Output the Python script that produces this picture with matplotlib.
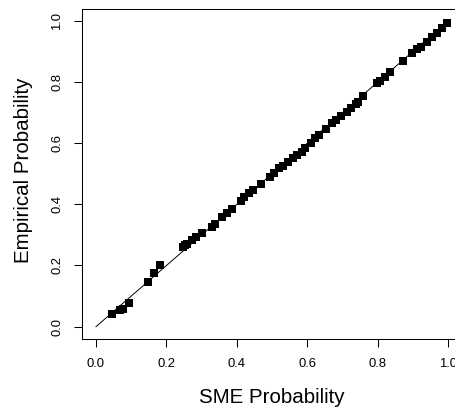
import matplotlib
matplotlib.use("Agg")
import matplotlib.pyplot as plt

sme_prob = [0.046, 0.068, 0.077, 0.095, 0.149, 0.165, 0.183, 0.246, 0.253, 0.257,
            0.272, 0.284, 0.300, 0.328, 0.338, 0.358, 0.371, 0.387, 0.411, 0.420,
            0.435, 0.446, 0.467, 0.494, 0.505, 0.519, 0.532, 0.546, 0.560, 0.571,
            0.584, 0.593, 0.609, 0.622, 0.633, 0.653, 0.669, 0.681, 0.695, 0.712,
            0.724, 0.738, 0.743, 0.759, 0.797, 0.806, 0.820, 0.835, 0.872, 0.896,
            0.912, 0.922, 0.939, 0.953, 0.967, 0.981, 0.995]
emp_prob = [0.042, 0.055, 0.059, 0.076, 0.147, 0.175, 0.201, 0.261, 0.267, 0.270,
            0.283, 0.294, 0.305, 0.327, 0.335, 0.358, 0.371, 0.385, 0.412, 0.423,
            0.436, 0.447, 0.465, 0.490, 0.503, 0.518, 0.526, 0.539, 0.552, 0.561,
            0.572, 0.583, 0.601, 0.616, 0.626, 0.645, 0.665, 0.675, 0.689, 0.703,
            0.714, 0.728, 0.735, 0.754, 0.795, 0.802, 0.817, 0.833, 0.869, 0.893,
            0.907, 0.915, 0.931, 0.946, 0.959, 0.975, 0.992]
ref_line = [0.0, 1.0]
ticks = [0.0, 0.2, 0.4, 0.6, 0.8, 1.0]
tick_labels = ["0.0", "0.2", "0.4", "0.6", "0.8", "1.0"]

plt.rcParams['font.family'] = ['Liberation Sans', 'DejaVu Sans']

fig = plt.figure(figsize=(4.55, 4.07), dpi=100)
ax = fig.add_axes([0.1800, 0.1673, 0.8363, 0.8118])

ax.plot(ref_line, ref_line, color='black', lw=0.7, zorder=2)
ax.plot(sme_prob, emp_prob, linestyle='none', marker='s', markersize=5.3,
        markeredgewidth=0, color='black', zorder=3)

ax.set_xlim(-0.04, 1.04)
ax.set_ylim(-0.04, 1.04)
ax.set_xticks(ticks)
ax.set_xticklabels(tick_labels)
ax.set_yticks(ticks)
ax.set_yticklabels(tick_labels, rotation=90, va='center')

for s in ax.spines.values():
    s.set_linewidth(0.75)
    s.set_color('black')

ax.tick_params(axis='both', direction='out', length=6, width=0.75,
               labelsize=9.4, colors='black')
ax.tick_params(axis='x', pad=7.5)
ax.tick_params(axis='y', pad=7.5)

fig.text(272 / 455, (407 - 403.3) / 407, "SME Probability", ha='center',
         va='baseline', fontsize=14.8)
fig.text(23.5 / 455, (407 - 170.6) / 407, "Empirical Probability", ha='center',
         va='center', rotation=90, fontsize=14.8)

fig.savefig("out.png", dpi=100)
